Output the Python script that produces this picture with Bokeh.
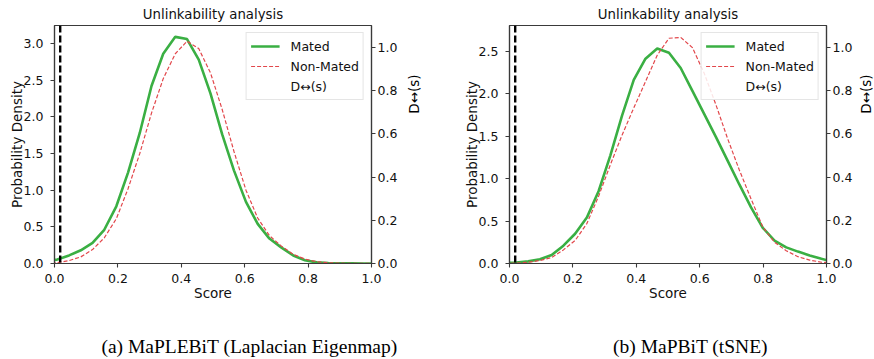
import math
from bokeh.plotting import figure
from bokeh.models import (Range1d, LinearAxis, FixedTicker, Legend, LegendItem,
                          Span, Label, ColumnDataSource, PrintfTickFormatter)
from bokeh.layouts import row, column
from bokeh.embed import file_html
from bokeh.resources import INLINE

# ---------------- data ----------------
score_a = [-0.028, 0.009, 0.046, 0.083, 0.120, 0.157, 0.195, 0.232, 0.269, 0.306,
           0.343, 0.381, 0.418, 0.455, 0.492, 0.529, 0.566, 0.604, 0.641, 0.678,
           0.715, 0.753, 0.790, 0.827, 0.864, 0.901, 0.938, 0.976, 1.013]
mated_a = [0.02, 0.055, 0.11, 0.18, 0.28, 0.46, 0.78, 1.24, 1.78, 2.42,
           2.86, 3.09, 3.06, 2.78, 2.32, 1.76, 1.27, 0.84, 0.54, 0.34,
           0.22, 0.11, 0.045, 0.015, 0.006, 0.003, 0.002, 0.001, 0.0]
nonmated_a = [0.003, 0.012, 0.04, 0.09, 0.19, 0.35, 0.61, 1.02, 1.50, 2.05,
              2.52, 2.86, 3.03, 2.93, 2.60, 2.10, 1.53, 1.00, 0.62, 0.38,
              0.24, 0.125, 0.06, 0.025, 0.01, 0.004, 0.002, 0.001, 0.0]

score_b = [-0.015, 0.022, 0.059, 0.096, 0.133, 0.170, 0.207, 0.244, 0.281, 0.318,
           0.355, 0.392, 0.429, 0.466, 0.503, 0.540, 0.577, 0.614, 0.651, 0.688,
           0.725, 0.762, 0.799, 0.836, 0.873, 0.910, 0.947, 0.984, 1.021]
mated_b = [0.005, 0.01, 0.025, 0.05, 0.10, 0.21, 0.35, 0.54, 0.85, 1.27,
           1.74, 2.16, 2.41, 2.53, 2.48, 2.30, 2.03, 1.76, 1.49, 1.21,
           0.93, 0.66, 0.42, 0.27, 0.19, 0.14, 0.095, 0.055, 0.02]
nonmated_b = [0.0, 0.005, 0.015, 0.035, 0.07, 0.16, 0.27, 0.47, 0.79, 1.16,
              1.51, 1.83, 2.14, 2.45, 2.65, 2.66, 2.54, 2.24, 1.87, 1.47,
              1.10, 0.76, 0.43, 0.25, 0.15, 0.08, 0.04, 0.015, 0.005]

d_score = []      # D<->(s) curve: not visible in the chart
d_values = []

threshold_a = 0.018
threshold_b = 0.018

x_ticks = [0.0, 0.2, 0.4, 0.6, 0.8, 1.0]
y_ticks_a = [0.0, 0.5, 1.0, 1.5, 2.0, 2.5, 3.0]
y_ticks_b = [0.0, 0.5, 1.0, 1.5, 2.0, 2.5]
d_ticks = [0.0, 0.2, 0.4, 0.6, 0.8, 1.0]

title_text = "Unlinkability analysis"
x_label = "Score"
y_label = "Probability Density"
d_label = "D\u2194(s)"
legend_labels = ["Mated", "Non-Mated", "D\u2194(s)"]
caption_a = "(a) MaPLEBiT (Laplacian Eigenmap)"
caption_b = "(b) MaPBiT (tSNE)"

# ---------------- style ----------------
FONT = "DejaVu Sans"
GREEN = "#3aaf43"
RED = "#e2474b"
BLUE = "#6479b0"
SPINE = "#3a3a3a"
TXT = "#111111"
PANEL_H = 313
FRAME_W = 319


def style_axis(ax, size="12.5px"):
    ax.axis_line_color = SPINE
    ax.axis_line_width = 1.2
    ax.major_tick_line_color = SPINE
    ax.major_tick_line_width = 1.1
    ax.major_tick_out = 4
    ax.major_tick_in = 0
    ax.minor_tick_line_color = None
    ax.major_label_text_font = FONT
    ax.major_label_text_font_size = size
    ax.major_label_text_color = TXT
    ax.axis_label_text_font = FONT
    ax.axis_label_text_font_size = "13.5px"
    ax.axis_label_text_font_style = "normal"
    ax.axis_label_text_color = TXT
    ax.formatter = PrintfTickFormatter(format="%.1f")


def make_panel(score, mated, nonmated, threshold, ytop, yticks, bl, br):
    p = figure(width=bl + FRAME_W + br, height=PANEL_H, output_backend="svg",
               toolbar_location=None,
               x_range=Range1d(0, 1), y_range=Range1d(0, ytop),
               min_border_left=bl, min_border_right=br, min_border_top=24,
               min_border_bottom=50)
    p.title.text = title_text
    p.title.align = "center"
    p.title.text_font = FONT
    p.title.text_font_size = "13.3px"
    p.title.text_font_style = "normal"
    p.title.text_color = TXT
    p.title.standoff = 8
    p.grid.visible = False
    p.outline_line_color = SPINE
    p.outline_line_width = 1.2
    p.background_fill_color = "white"
    p.border_fill_color = "white"

    p.extra_y_ranges = {"D": Range1d(0, 1.1025)}
    dax = LinearAxis(y_range_name="D", ticker=FixedTicker(ticks=d_ticks))
    style_axis(dax)
    dax.major_label_standoff = 2
    p.add_layout(dax, "right")

    style_axis(p.xaxis[0])
    p.xaxis[0].ticker = FixedTicker(ticks=x_ticks)
    p.xaxis[0].axis_label = x_label
    p.xaxis[0].major_label_standoff = 6
    p.xaxis[0].axis_label_standoff = -1
    style_axis(p.yaxis[0])
    p.yaxis[0].ticker = FixedTicker(ticks=yticks)
    p.yaxis[0].axis_label = y_label
    p.yaxis[0].major_label_standoff = 7
    p.yaxis[0].axis_label_standoff = -4

    src = ColumnDataSource(dict(s=score, m=mated, n=nonmated))
    r1 = p.line("s", "m", source=src, line_color=GREEN, line_width=2.6)
    r2 = p.line("s", "n", source=src, line_color=RED, line_width=1.2,
                line_dash="4 2")
    dsrc = ColumnDataSource(dict(s=d_score, d=d_values))
    r3 = p.line("s", "d", source=dsrc, line_color=BLUE, line_width=1.6,
                y_range_name="D")

    p.add_layout(Span(location=threshold, dimension="height", line_color="black",
                      line_width=2.4, line_dash="7 3"))

    legend = Legend(items=[LegendItem(label=legend_labels[0], renderers=[r1]),
                           LegendItem(label=legend_labels[1], renderers=[r2]),
                           LegendItem(label=legend_labels[2], renderers=[r3])],
                    location="top_right")
    legend.label_text_font = FONT
    legend.label_text_font_size = "12.5px"
    legend.label_text_color = TXT
    legend.glyph_width = 29
    legend.glyph_height = 18
    legend.label_height = 18
    legend.label_standoff = 11
    legend.spacing = 2
    legend.padding = 4
    legend.margin = 7
    legend.border_line_color = "#cccccc"
    legend.border_line_width = 1
    legend.background_fill_alpha = 0.85
    p.add_layout(legend)
    return p


def text_strip(width, height, text, cx, cy, angle, font, size):
    """A bare canvas that only carries one piece of text (axis title / caption)."""
    c = figure(width=width, height=height, output_backend="svg",
               toolbar_location=None, x_range=Range1d(0, 1), y_range=Range1d(0, 1),
               x_axis_location=None, y_axis_location=None, title=None,
               min_border=0)
    c.grid.visible = False
    c.outline_line_color = None
    c.add_layout(Label(x=cx, y=cy, x_units="screen", y_units="screen",
                       text=text, angle=angle, text_align="center",
                       text_baseline="middle", text_font=font,
                       text_font_size=size, text_color="black"))
    return c


pa = make_panel(score_a, mated_a, nonmated_a, threshold_a, 3.245, y_ticks_a, 54, 27)
la = text_strip(27, PANEL_H, d_label, 13, 169.5, math.pi / 2, FONT, "13.5px")
pb = make_panel(score_b, mated_b, nonmated_b, threshold_b, 2.80, y_ticks_b, 82, 27)
lb = text_strip(19, PANEL_H, d_label, 10.5, 169.5, math.pi / 2, FONT, "13.5px")

ca = text_strip(427, 46, caption_a, 249, 13, 0, "Liberation Serif", "19.5px")
cb = text_strip(447, 46, caption_b, 263, 13, 0, "Liberation Serif", "19.5px")

layout = column(row(pa, la, pb, lb), row(ca, cb))
open("out.html", "w").write(file_html(layout, INLINE))
